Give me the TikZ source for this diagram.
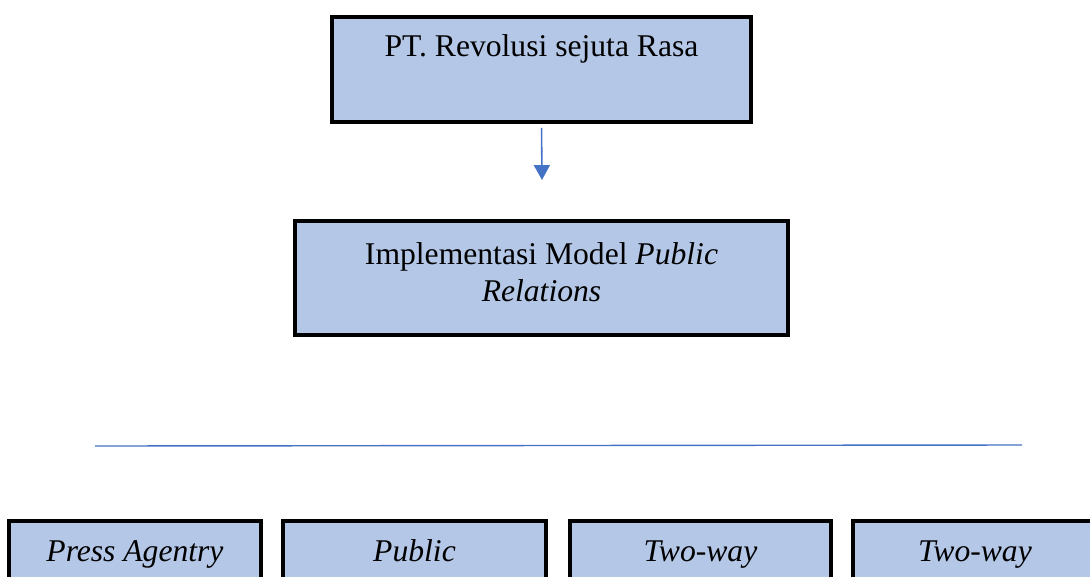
\documentclass[tikz,border=0pt]{standalone}
\usepackage{fontspec}
\setmainfont{Liberation Serif}
\usetikzlibrary{arrows.meta}
\definecolor{boxfill}{HTML}{B4C7E7}
\definecolor{linkblue}{HTML}{4472C4}
\newcommand{\pr}[1]{\textit{#1}}

\begin{document}
\begin{tikzpicture}
  [x=0.02cm,y=-0.02cm,
   every node/.style={font=\fontsize{18}{21}\selectfont},
   box/.style={draw=black,line width=2.2pt,fill=boxfill,rectangle,align=center},
   topbox/.style={box,anchor=north,inner ysep=10.3pt,text height=12.5pt,text depth=26.7pt,minimum width=8.38cm},
   lowbox/.style={box,anchor=north,inner ysep=10.8pt,text height=12.5pt,text depth=60pt}]
  \useasboundingbox (0,0) rectangle (1090,576);
  \clip (0,0) rectangle (1090,576);

  \node[topbox] (ptrasa) at (541.5,15) {PT. Revolusi sejuta Rasa};
  \node[box,minimum width=9.86cm,minimum height=2.28cm] (model) at (541.5,278)
    {Implementasi Model \pr{Public}\\ \pr{Relations}\rule[-7pt]{0pt}{0pt}};
  \coordinate (tip) at (542,180);
  \draw[linkblue,line width=0.9pt,shorten <=2.3pt,-{Triangle[length=8.5pt,width=9.1pt]}]
    (ptrasa.south) -- (tip);

  \coordinate (lineL) at (95,446);
  \coordinate (lineR) at (1022,445);
  \draw[linkblue,line width=0.8pt] (lineL) -- (lineR);

  \node[lowbox,minimum width=5.04cm] (press) at (135,519) {\pr{Press Agentry}};
  \node[lowbox,minimum width=5.26cm] (pubinfo) at (414.5,519) {\pr{Public}};
  \node[lowbox,minimum width=5.22cm] (asym) at (700.5,519) {\pr{Two-way}};
  \node[lowbox,minimum width=4.88cm] (sym) at (975,519) {\pr{Two-way}};
\end{tikzpicture}
\end{document}
